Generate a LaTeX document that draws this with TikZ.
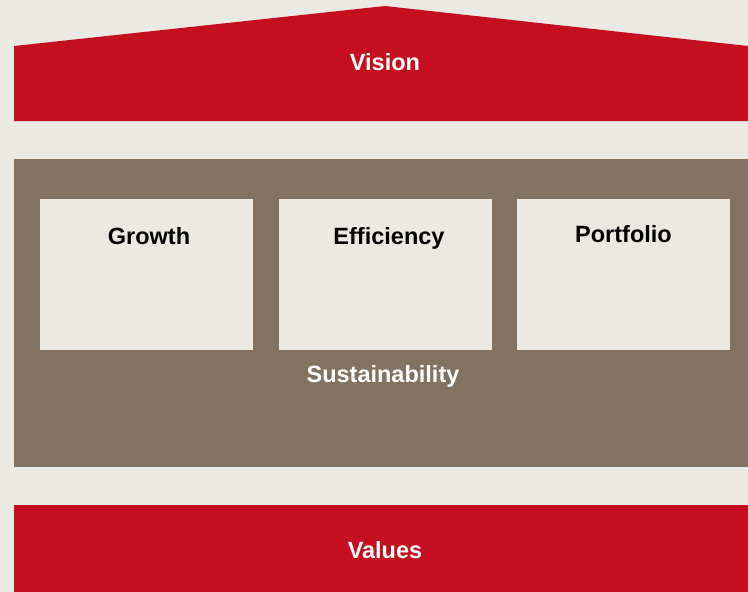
\documentclass[tikz,border=0pt]{standalone}
\usepackage{fontspec}
\setmainfont{Liberation Sans}
\usetikzlibrary{positioning}
\definecolor{houseRed}{HTML}{C50F20}
\definecolor{houseBrown}{HTML}{827262}
\definecolor{houseBack}{HTML}{EBE9E4}
\definecolor{houseBox}{HTML}{ECE9E3}

\begin{document}
\begin{tikzpicture}[x=1pt,y=-1pt,
      title/.style={font=\fontsize{23.5}{28}\selectfont\bfseries, inner sep=0pt},
      pillar/.style={fill=houseBox, minimum width=213pt, minimum height=151pt, inner sep=0pt, outer sep=0pt, anchor=north west}]
   \fill[houseBack] (0,0) rectangle (748,592);
   \useasboundingbox (0,0) rectangle (748,592);

   % roof
   \fill[houseRed] (14,46) -- (385,6) -- (748,46) -- (748,121) -- (14,121) -- cycle;
   \node[title, white] (vision) at (385,62) {Vision};

   % body with the three pillars
   \fill[houseBrown] (14,159) rectangle (748,467);
   \node[pillar] (growth) at (40,199) {};
   \node[pillar, right=26pt of growth] (efficiency) {};
   \node[pillar, right=25pt of efficiency] (portfolio) {};

   \node[title, anchor=base] (growthT) at ([xshift=2.5pt,yshift=-45.5pt]growth.north) {Growth};
   \node[title, anchor=base] (efficiencyT) at ([xshift=3.5pt,yshift=-45.5pt]efficiency.north) {Efficiency};
   \node[title, anchor=base] (portfolioT) at ([yshift=-43.5pt]portfolio.north) {Portfolio};

   \node[title, white] (sustain) at (383,376) {Sustainability};

   % foundation
   \fill[houseRed] (14,505) rectangle (748,592);
   \node[title, white] (values) at (385,550) {Values};
\end{tikzpicture}
\end{document}
